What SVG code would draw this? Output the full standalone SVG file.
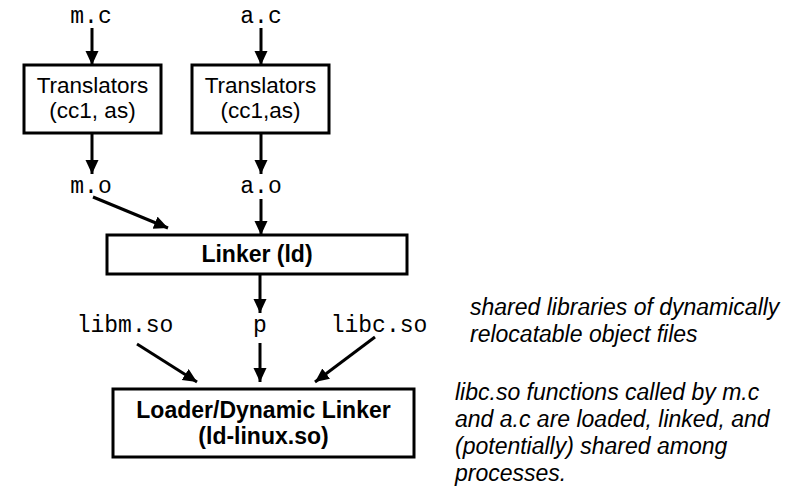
<svg xmlns="http://www.w3.org/2000/svg" width="799" height="490" viewBox="0 0 799 490">
<defs>
<marker id="ah" markerWidth="15" markerHeight="14" refX="14" refY="6.5" orient="auto" markerUnits="userSpaceOnUse" viewBox="0 0 15 14">
<path d="M0,0 L14,6.5 L0,13 z" fill="#000"/>
</marker>
<style>
.box{fill:#fff;stroke:#000;stroke-width:3}
.t{font-family:"Liberation Sans",Arial,sans-serif;font-size:22.5px;text-anchor:middle;fill:#000}
.b{font-weight:bold;font-size:23px}
.m{font-family:"Liberation Mono","Courier New",monospace;font-size:23px;text-anchor:middle;fill:#000}
.i{font-family:"Liberation Sans",Arial,sans-serif;font-size:23px;font-style:italic;fill:#000}
.c{stroke:#000;stroke-width:3;fill:none;marker-end:url(#ah)}
</style>
</defs>
<g id="mc"><text class="m" x="91" y="23">m.c</text></g>
<g id="ac"><text class="m" x="261" y="23">a.c</text></g>
<g id="trans1"><rect class="box" x="24" y="65" width="137" height="68"/><text class="t" x="92.5" y="93">Translators</text><text class="t" x="92.5" y="118">(cc1, as)</text></g>
<g id="trans2"><rect class="box" x="192" y="65" width="137" height="68"/><text class="t" x="260.5" y="93">Translators</text><text class="t" x="260.5" y="118">(cc1,as)</text></g>
<g id="mo"><text class="m" x="91" y="193">m.o</text></g>
<g id="ao"><text class="m" x="261" y="193">a.o</text></g>
<g id="linker"><rect class="box" x="107" y="235" width="300" height="39"/><text class="t b" x="257" y="262">Linker (ld)</text></g>
<g id="libm"><text class="m" x="125" y="332">libm.so</text></g>
<g id="p"><text class="m" x="260" y="332">p</text></g>
<g id="libc"><text class="m" x="379" y="332">libc.so</text></g>
<g id="loader"><rect class="box" x="113" y="389" width="301" height="68"/><text class="t b" x="263.5" y="418">Loader/Dynamic Linker</text><text class="t b" x="263.5" y="444">(ld-linux.so)</text></g>
<g id="note1"><text class="i" x="470" y="315">shared libraries of dynamically</text><text class="i" x="470" y="342">relocatable object files</text></g>
<g id="note2"><text class="i" x="455" y="400">libc.so functions called by m.c</text><text class="i" x="455" y="427">and a.c are loaded, linked, and</text><text class="i" x="455" y="454">(potentially) shared among</text><text class="i" x="455" y="481">processes.</text></g>
<g id="connectors">
<line class="c" x1="92" y1="28" x2="92" y2="65"/>
<line class="c" x1="261" y1="28" x2="261" y2="65"/>
<line class="c" x1="92" y1="134" x2="92" y2="174"/>
<line class="c" x1="261" y1="134" x2="261" y2="174"/>
<line class="c" x1="93" y1="197" x2="168" y2="228"/>
<line class="c" x1="261" y1="199" x2="261" y2="235"/>
<line class="c" x1="260" y1="275" x2="260" y2="313"/>
<line class="c" x1="137" y1="344" x2="197" y2="382"/>
<line class="c" x1="260" y1="343" x2="260" y2="382"/>
<line class="c" x1="375" y1="337" x2="315" y2="382"/>
</g>
</svg>
